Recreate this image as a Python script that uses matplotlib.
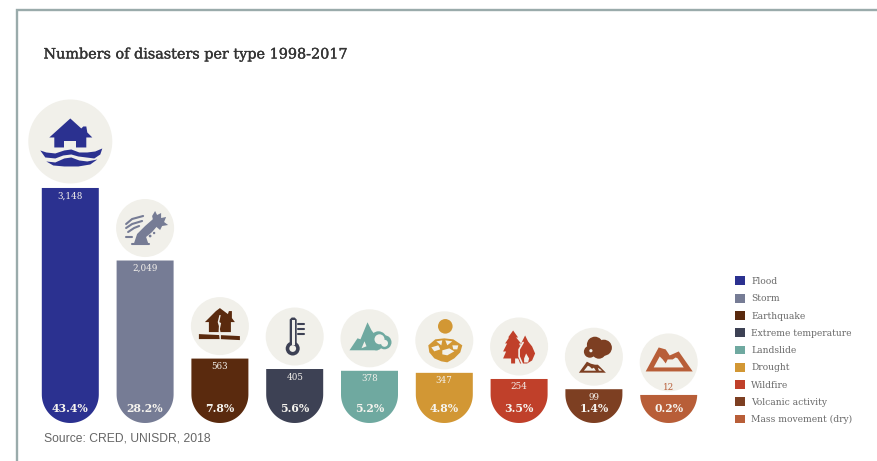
"""
Numbers of disasters per type, drawn as round-bottomed bars with a badge on top.
"""
import matplotlib
matplotlib.use('Agg')
import matplotlib.pyplot as plt
import matplotlib.patheffects as pe
from matplotlib.patches import Circle, Patch, Polygon
import numpy as np

categories = ["Flood", "Storm", "Earthquake", "Extreme temperature", "Landslide",
              "Drought", "Wildfire", "Volcanic activity", "Mass movement (dry)"]
counts = [3148, 2049, 563, 405, 378, 347, 254, 99, 12]
shares = [43.4, 28.2, 7.8, 5.6, 5.2, 4.8, 3.5, 1.4, 0.2]
colors = ["#2b3190", "#767c95", "#5a2a0e", "#3d4154", "#6fa9a0",
          "#d29734", "#c0402a", "#7d3f22", "#b85e38"]

W, H = 877, 461
SERIF = "DejaVu Serif"
BADGE = "#f1f0ea"

# value axis: the bars stand on a false zero so that small counts still fit a label
BASE = -413
PX_PER_COUNT = 0.066
BASE_ROW = 423
BAR_W = 57
X0, DX = 70.3, 74.8


def row_of(count):
    return BASE_ROW - (count - BASE) * PX_PER_COUNT


def rounded_bar(ax, x, count, color):
    r = BAR_W / 2
    t = np.linspace(np.pi, 0, 60)
    xs = x + r * np.cos(t)
    ys = np.minimum(BASE + (r - r * np.sin(t)) / PX_PER_COUNT, count)
    ax.fill(np.r_[x - r, xs, x + r], np.r_[count, ys, count], color=color, lw=0)


def shape(px, cx, cy, pts, color, z=3):
    pts = np.array(pts, dtype=float) + (cx, cy)
    px.add_patch(Polygon(pts, closed=True, fc=color, ec="none", zorder=z))


def disc(px, cx, cy, r, color, z=3):
    px.add_patch(Circle((cx, cy), r, fc=color, ec="none", zorder=z))


def stroke(px, cx, cy, pts, color, lw=1.5, z=3):
    pts = np.array(pts, dtype=float) + (cx, cy)
    px.plot(pts[:, 0], pts[:, 1], color=color, lw=lw, zorder=z,
            solid_capstyle="round", solid_joinstyle="round")


def flood_icon(px, cx, cy, c):
    shape(px, cx, cy, [(0, -23), (11, -13), (13, -15), (16, -15), (17, -9), (22, -4),
                       (16, -4), (16, 6), (-16, 6), (-16, -4), (-21, -4)], c)
    shape(px, cx, cy, [(-6, 0), (6, 0), (6, 7), (-6, 7)], BADGE, 4)
    shape(px, cx, cy, [(-30, 9), (-24, 11), (-15, 12), (-6, 9), (1, 8), (9, 11), (17, 11),
                       (25, 10), (32, 7), (30, 13), (24, 17), (16, 16), (8, 15), (1, 13),
                       (-7, 14), (-15, 17), (-25, 16)], c)
    shape(px, cx, cy, [(-24, 20), (-15, 21), (-6, 17), (1, 16), (9, 19), (17, 20), (27, 18),
                       (20, 23), (8, 25), (-6, 25), (-17, 24)], c)


def storm_icon(px, cx, cy, c):
    # palm bent by the wind
    shape(px, cx, cy, [(-11, 15), (-8, 6), (0, -2), (8, -9), (13, -3), (7, 4), (1, 9), (3, 15)], c)
    shape(px, cx, cy, [(7, -12), (10, -17), (12, -13), (16, -15), (16, -10), (21, -11), (19, -6),
                       (23, -3), (17, -2), (15, 2), (9, -3)], c)
    stroke(px, cx, cy, [(-19, -4), (-13, -9), (-2, -12)], c, 1.5)
    stroke(px, cx, cy, [(-19, 0), (-13, -4), (-3, -7)], c, 1.5)
    stroke(px, cx, cy, [(-17, 4), (-11, 0), (-6, -2)], c, 1.5)
    stroke(px, cx, cy, [(-19, 9), (-13, 9)], c, 1.5)
    stroke(px, cx, cy, [(-13, 16), (4, 16)], c, 1.5)
    disc(px, cx + 5, cy + 8, 1.4, c)
    disc(px, cx + 9, cy + 5, 1.2, c)


def quake_icon(px, cx, cy, c):
    shape(px, cx, cy, [(0, -18), (8, -12), (9, -15), (12, -15), (12, -8), (15, -4), (11, -4),
                       (11, 6), (-11, 6), (-11, -4), (-15, -4), (-4, -15)], c)
    shape(px, cx, cy, [(-21, 8), (0, 9), (20, 10), (20, 14), (0, 13), (-21, 13)], c)
    shape(px, cx, cy, [(-0.5, -11), (0.8, -11), (-0.6, -4), (1.2, -3), (0, 3), (1, 8), (1, 15),
                       (0, 15), (-1.3, 5), (-1, 0), (-2.2, -4)], BADGE, 4)


def thermo_icon(px, cx, cy, c):
    shape(px, cx, cy, [(-5, -17), (-3, -19), (0, -19), (2, -17), (2, 8), (-5, 8)], c)
    disc(px, cx - 2, cy + 12, 7, c)
    disc(px, cx - 2, cy + 12, 3.4, BADGE, 4)
    shape(px, cx, cy, [(-3, -16.5), (0, -16.5), (0, 8), (-3, 8)], BADGE, 4)
    for dy in (-13, -8, -3):
        stroke(px, cx, cy, [(3, dy), (9, dy)], c, 1.5)


def landslide_icon(px, cx, cy, c):
    shape(px, cx, cy, [(-20, 12), (-12, 0), (-9, 1), (-2, -16), (2, -8), (5, -4), (9, 0), (8, 12)], c)
    for dx, dy, r in [(9, 1, 8), (15, 4, 7), (7, 6, 6)]:
        disc(px, cx + dx, cy + dy, r, c)
    for dx, dy, r in [(10, 1, 5), (15, 5, 3.5)]:
        disc(px, cx + dx, cy + dy, r, BADGE, 4)
    shape(px, cx, cy, [(-8, 10), (-5, 3), (-3, 8)], BADGE, 4)


def drought_icon(px, cx, cy, c):
    disc(px, cx + 1, cy - 14, 7.3, c)
    shape(px, cx, cy, [(-16, 5), (-9, -1), (0, -2), (9, -1), (18, 5), (16, 12), (10, 18),
                       (3, 22), (-3, 21), (-10, 18), (-15, 12)], c)
    shape(px, cx, cy, [(-8, 1), (-2, 0), (-3, 5)], BADGE, 4)
    shape(px, cx, cy, [(1, 0), (8, 1), (3, 5)], BADGE, 4)
    shape(px, cx, cy, [(-13, 7), (-6, 5), (-4, 9), (-10, 11)], BADGE, 4)
    shape(px, cx, cy, [(-2, 10), (5, 8), (10, 11), (3, 15), (-2, 14)], BADGE, 4)
    shape(px, cx, cy, [(8, 5), (14, 5), (13, 9), (9, 9)], BADGE, 4)


def wildfire_icon(px, cx, cy, c):
    shape(px, cx, cy, [(-6, -16), (-1, -9), (-3, -9), (2, -3), (0, -3), (3, 5), (1, 5), (2, 12),
                       (-4, 12), (-4, 17), (-8, 17), (-8, 12), (-16, 12), (-13, 5), (-16, 5),
                       (-12, -3), (-14, -3), (-10, -9), (-11, -9)], c)
    shape(px, cx, cy, [(6, -11), (9, -5), (13, 0), (16, 7), (13, 14), (8, 17), (1, 17), (-2, 9),
                       (0, 2), (3, -5)], c)
    stroke(px, cx, cy, [(4, -4), (0, 3), (0, 10), (3, 17)], BADGE, 1.2, 4)
    shape(px, cx, cy, [(7, 7), (10, 12), (9, 16), (5, 16), (5, 12)], BADGE, 4)


def volcano_icon(px, cx, cy, c):
    for dx, dy, r in [(1, -12, 8), (10, -9, 8), (-4, -5, 6), (5, -5, 7)]:
        disc(px, cx + dx, cy + dy, r, c)
    disc(px, cx - 3, cy - 6, 1.6, BADGE, 4)
    shape(px, cx, cy, [(-15, 16), (-7, 5), (-3, 7), (1, 8), (4, 8), (12, 16)], c)
    shape(px, cx, cy, [(-10, 14), (-6, 9), (-4, 10), (-2, 12), (0, 11), (2, 14)], BADGE, 4)
    shape(px, cx, cy, [(4, 11), (7, 13), (8, 14), (5, 14)], BADGE, 4)


def landmass_icon(px, cx, cy, c):
    shape(px, cx, cy, [(-23, 9), (-10, -15), (-3, -13), (1, -7), (10, -11), (24, 9)], c)
    shape(px, cx, cy, [(-15, 5), (-9, -6), (-6, -3), (-3, 1), (-1, -3), (4, -3), (7, -5), (9, -4),
                       (15, 5)], BADGE, 4)


icons = [flood_icon, storm_icon, quake_icon, thermo_icon, landslide_icon,
         drought_icon, wildfire_icon, volcano_icon, landmass_icon]


def main():
    fig = plt.figure(figsize=(W / 100, H / 100), dpi=100)

    ax = fig.add_axes([0, 0, 1, 1])
    ax.set_xlim(0, W)
    ax.set_ylim(BASE - (H - BASE_ROW) / PX_PER_COUNT, BASE + BASE_ROW / PX_PER_COUNT)
    ax.axis("off")

    # second layer in pixel rows for the frame, badges and captions
    px = fig.add_axes([0, 0, 1, 1])
    px.set_xlim(0, W)
    px.set_ylim(H, 0)
    px.axis("off")

    px.plot([16.5, 16.5, W], [H, 10, 10], color="#9aabab", lw=1.7, solid_joinstyle="miter")

    for i, (count, share, color) in enumerate(zip(counts, shares, colors)):
        x = X0 + DX * i
        rounded_bar(ax, x, count, color)
        top = row_of(count)

        big = i == 0
        cy = top - (46.5 if big else 32.5)
        disc(px, x, cy, 42 if big else 29, BADGE, 2)
        icons[i](px, x, cy, color)

        # the smallest bar has no room, so its count sits above it
        label_y, label_c = (top - 7, color) if count < 50 else (top + 8, "#f4f1ec")
        px.text(x, label_y, f"{count:,}", color=label_c, fontsize=6.3, family=SERIF,
                ha="center", va="center", zorder=5)
        px.text(x, 408, f"{share}%", color="#f6f4ef", fontsize=7.8, family=SERIF,
                weight="bold", ha="center", va="center", zorder=5)

    title = px.text(43.5, 54.5, "Numbers of disasters per type 1998-2017", color="#333333",
                    fontsize=10.35, family=SERIF, ha="left", va="center")
    title.set_path_effects([pe.withStroke(linewidth=0.25, foreground="#333333")])
    px.text(44, 438.5, "Source: CRED, UNISDR, 2018", color="#666666", fontsize=8.7,
            family="Liberation Sans", ha="left", va="center")

    handles = [Patch(fc=c, ec="none", label=name) for c, name in zip(colors, categories)]
    px.legend(handles=handles, loc="upper left", bbox_to_anchor=(735 / W, 1 - 276.5 / H),
              frameon=False, prop={"family": SERIF, "size": 6.55}, labelcolor="#6a6a6a",
              handlelength=1.1, handleheight=1.1, handletextpad=0.66,
              labelspacing=0.86, borderpad=0, borderaxespad=0)

    fig.savefig("out.png", dpi=100)


if __name__ == "__main__":
    main()
